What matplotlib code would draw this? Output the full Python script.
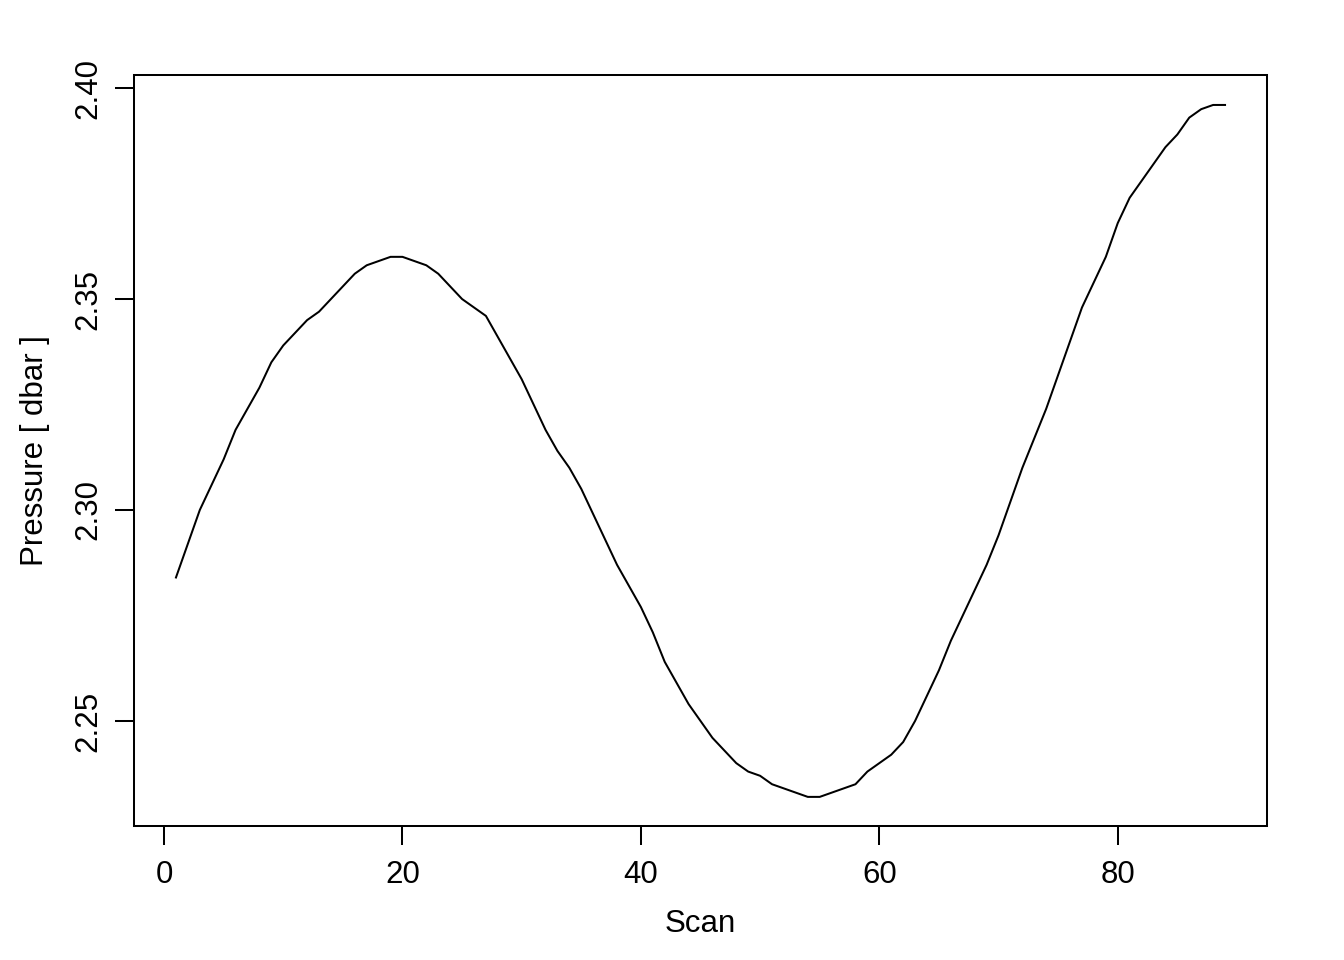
import matplotlib
matplotlib.use("Agg")
import matplotlib.pyplot as plt
import numpy as np

scan = list(range(1, 90))
pressure = [
    2.284, 2.292, 2.300, 2.306, 2.312, 2.319, 2.324, 2.329, 2.335, 2.339,
    2.342, 2.345, 2.347, 2.350, 2.353, 2.356, 2.358, 2.359, 2.360, 2.360,
    2.359, 2.358, 2.356, 2.353, 2.350, 2.348, 2.346, 2.341, 2.336, 2.331,
    2.325, 2.319, 2.314, 2.310, 2.305, 2.299, 2.293, 2.287, 2.282, 2.277,
    2.271, 2.264, 2.259, 2.254, 2.250, 2.246, 2.243, 2.240, 2.238, 2.237,
    2.235, 2.234, 2.233, 2.232, 2.232, 2.233, 2.234, 2.235, 2.238, 2.240,
    2.242, 2.245, 2.250, 2.256, 2.262, 2.269, 2.275, 2.281, 2.287, 2.294,
    2.302, 2.310, 2.317, 2.324, 2.332, 2.340, 2.348, 2.354, 2.360, 2.368,
    2.374, 2.378, 2.382, 2.386, 2.389, 2.393, 2.395, 2.396, 2.396,
]
xticks = [0, 20, 40, 60, 80]
yticks = [2.25, 2.30, 2.35, 2.40]
ytick_labels = ["2.25", "2.30", "2.35", "2.40"]
ylim = (2.2251, 2.4031)

plt.rcParams['font.family'] = ['Liberation Sans', 'DejaVu Sans']

W, H = 1344, 960
fig = plt.figure(figsize=(W / 100, H / 100), dpi=100)
L, R, T, B = 134, 1267, 75, 826
ax = fig.add_axes([L / W, 1 - B / H, (R - L) / W, (B - T) / H])

ax.plot(scan, pressure, color='black', lw=1.45)

# R-style 4% padding on x
xr = max(scan) - min(scan)
ax.set_xlim(min(scan) - 0.04 * xr, max(scan) + 0.04 * xr)
ax.set_ylim(*ylim)

ax.set_xticks(xticks)
ax.set_xticklabels([str(v) for v in xticks])
ax.set_yticks(yticks)
ax.set_yticklabels(ytick_labels)

for s in ax.spines.values():
    s.set_linewidth(1.45)
ax.tick_params(axis='both', direction='out', length=13.7, width=1.45,
               labelsize=22.5, color='black')
ax.tick_params(axis='x', pad=10.5)
ax.tick_params(axis='y', pad=8)
for lab in ax.get_yticklabels():
    lab.set_rotation(90)
    lab.set_verticalalignment('center')

ax.set_xlabel("Scan", fontsize=22.5)
ax.xaxis.set_label_coords(0.5, (B - 924) / (B - T))
ax.xaxis.label.set_verticalalignment('center')
ax.set_ylabel("Pressure [ dbar ]", fontsize=22.5)
ax.yaxis.set_label_coords((35 - L) / (R - L), 0.5)
ax.yaxis.label.set_verticalalignment('center')

fig.savefig("out.png", dpi=100)
